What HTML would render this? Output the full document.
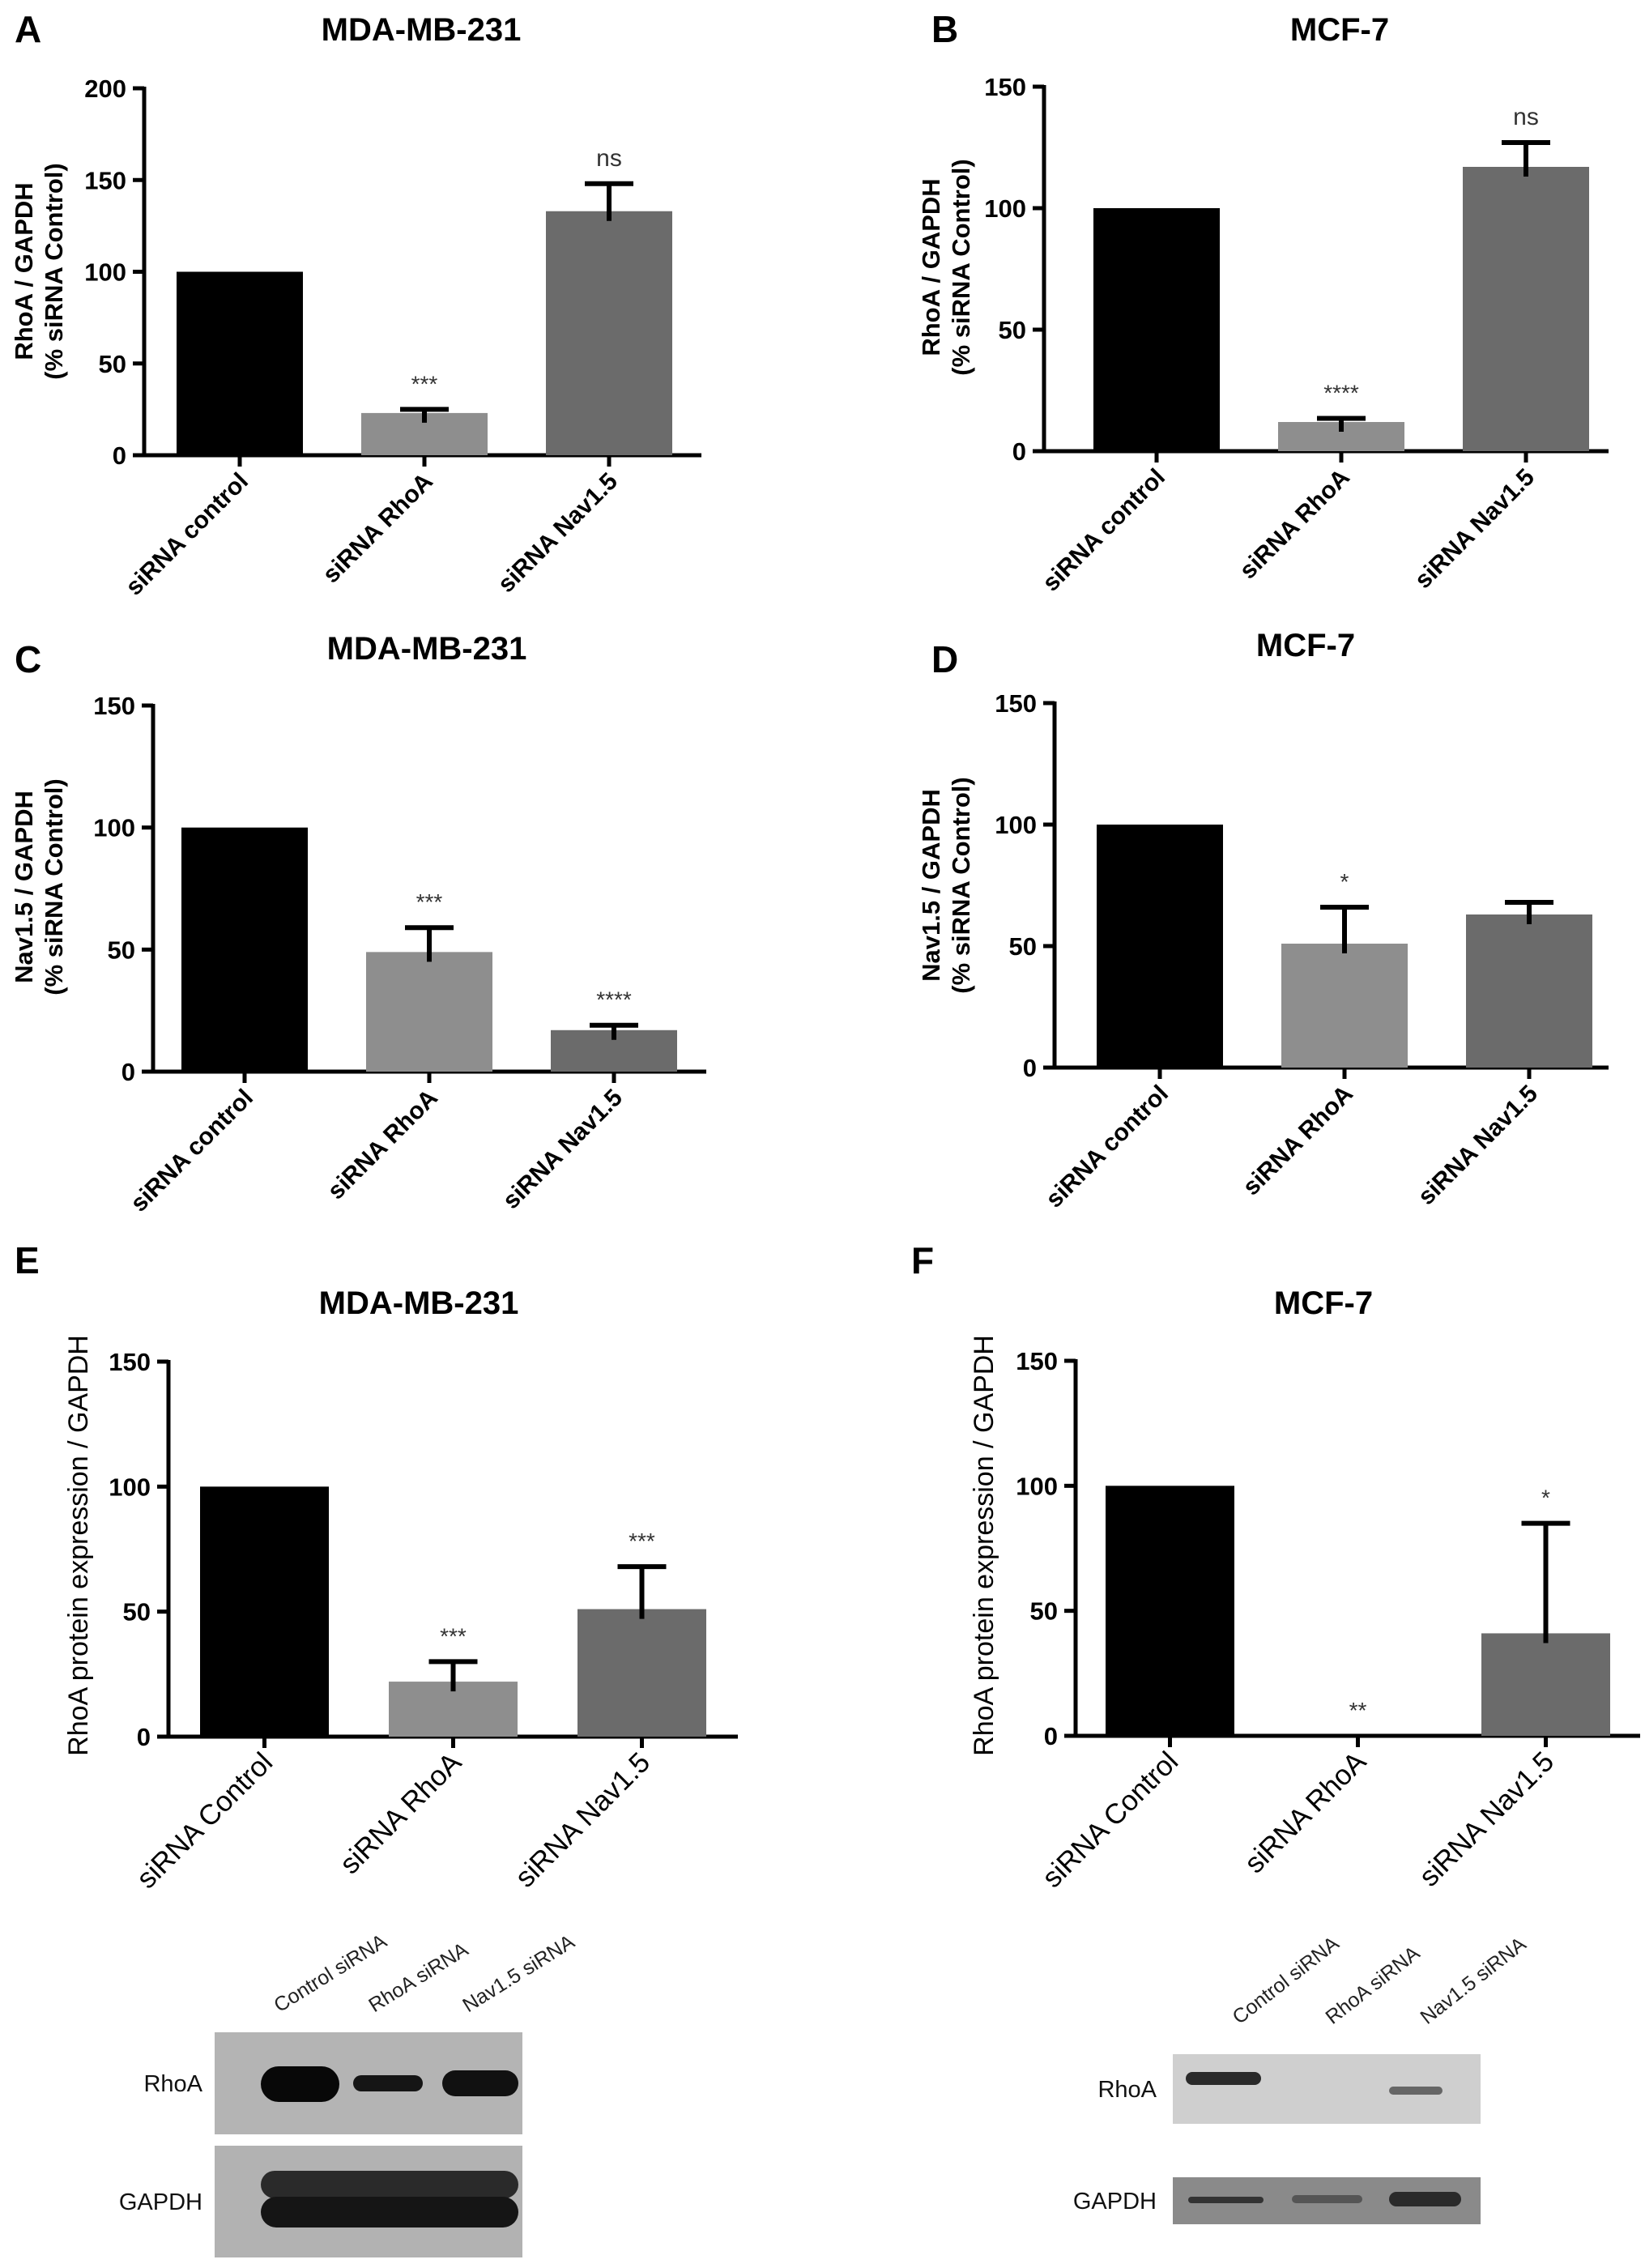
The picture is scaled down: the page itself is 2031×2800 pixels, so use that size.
<!DOCTYPE html>
<html><head><meta charset="utf-8">
<style>
html,body{margin:0;padding:0;background:#fff;}
svg{display:block;font-family:"Liberation Sans",Arial,sans-serif;}
</style></head>
<body>
<svg id="fig" width="2031" height="2800" viewBox="0 0 2031 2800" xmlns="http://www.w3.org/2000/svg"></svg>
<script>
// ---- data ----
const categoriesAD = ["siRNA control","siRNA RhoA","siRNA Nav1.5"];
const categoriesEF = ["siRNA Control","siRNA RhoA","siRNA Nav1.5"];
const valuesA = [100, 23, 133];
const errorsA = [0, 25, 148];
const sigA = ["", "***", "ns"];
const ticksA = [0, 50, 100, 150, 200];
const valuesB = [100, 12, 117];
const errorsB = [0, 13.5, 127];
const sigB = ["", "****", "ns"];
const ticksB = [0, 50, 100, 150];
const valuesC = [100, 49, 17];
const errorsC = [0, 59, 19];
const sigC = ["", "***", "****"];
const ticksC = [0, 50, 100, 150];
const valuesD = [100, 51, 63];
const errorsD = [0, 66, 68];
const sigD = ["", "*", ""];
const ticksD = [0, 50, 100, 150];
const valuesE = [100, 22, 51];
const errorsE = [0, 30, 68];
const sigE = ["", "***", "***"];
const ticksE = [0, 50, 100, 150];
const valuesF = [100, 0, 41];
const errorsF = [0, 0, 85];
const sigF = ["", "**", "*"];
const ticksF = [0, 50, 100, 150];

const NS = "http://www.w3.org/2000/svg";
const svg = document.getElementById("fig");
const colors = ["#000000", "#8e8e8e", "#6b6b6b"];

function mk(tag, attrs, parent, text) {
  const e = document.createElementNS(NS, tag);
  for (const k in attrs) e.setAttribute(k, attrs[k]);
  if (text !== undefined) e.textContent = text;
  (parent || svg).appendChild(e);
  return e;
}

function panel(p) {
  const g = mk("g", {});
  
  
  const ymax = p.ticks[p.ticks.length - 1];
  const yScale = v => p.y0 - (v / ymax) * (p.y0 - p.yTop);
  const lt = mk("text", {x: p.lx, y: p.ly, "font-size": 46, "font-weight": "bold"}, g, p.id);
  
  
  const tt = mk("text", {x: p.tx, y: p.ty, "font-size": 40, "font-weight": "bold", "text-anchor": "middle"}, g, p.title);
  
  
  const ya = mk("line", {x1: p.ax, y1: p.yTop - 2, x2: p.ax, y2: p.y0 + 2, stroke: "#000", "stroke-width": 5}, g);
  
  
  const xa = mk("line", {x1: p.ax - 2, y1: p.y0, x2: p.xEnd, y2: p.y0, stroke: "#000", "stroke-width": 5}, g);
  
  
  p.ticks.forEach(t => {
    const y = yScale(t);
    const tl = mk("line", {x1: p.ax - 14, y1: y, x2: p.ax, y2: y, stroke: "#000", "stroke-width": 5}, g);
    
    
    const tx = mk("text", {x: p.ax - 22, y: y + 11, "font-size": 31, "font-weight": "bold", "text-anchor": "end"}, g, String(t));
    
    
  });
  const yt = mk("text", {transform: `translate(${p.ytx},${p.yty}) rotate(-90)`, "font-size": p.ytSize, "font-weight": p.ytWeight, "text-anchor": "middle"}, g);
  
  
  p.yTitle.forEach((line, i) => {
    mk("tspan", {x: 0, dy: i === 0 ? 0 : p.ytSize * 1.2}, yt, line);
  });
  p.values.forEach((v, i) => {
    const left = p.x0 + i * p.step;
    const cx = left + p.bw / 2;
    const yv = yScale(v);
    if (v > 0) {
      const r = mk("rect", {x: left, y: yv, width: p.bw, height: p.y0 - yv, fill: colors[i]}, g);
      
      
    }
    if (p.errors[i] > v) {
      const ye = yScale(p.errors[i]);
      const el = mk("path", {d: `M${cx},${yv + 12}V${ye}M${cx - 30},${ye}H${cx + 30}`, stroke: "#000", "stroke-width": 6, fill: "none"}, g);
      
      
    }
    if (p.sig[i]) {
      const top = p.errors[i] > v ? yScale(p.errors[i]) : yv;
      const st = mk("text", {x: cx, y: top - 22, "font-size": p.sig[i] === "ns" ? 30 : 28, fill: "#333", "text-anchor": "middle"}, g, p.sig[i]);
      
      
    }
    const xt = mk("line", {x1: cx, y1: p.y0, x2: cx, y2: p.y0 + 14, stroke: "#000", "stroke-width": 5}, g);
    
    
    const xl = mk("text", {transform: `translate(${cx + 12},${p.y0 + 34}) rotate(-45)`, "font-size": p.xlSize, "font-weight": p.xlWeight, "text-anchor": "end"}, g, p.cats[i]);
    
    
  });
}

const ytAD1 = ["RhoA / GAPDH", "(% siRNA Control)"];
const ytAD2 = ["Nav1.5 / GAPDH", "(% siRNA Control)"];
const ytEF = ["RhoA protein expression / GAPDH"];

panel({id:"A", title:"MDA-MB-231", lx:18, ly:52, tx:520, ty:50, ax:178, yTop:109, y0:562, xEnd:866, x0:218, step:228, bw:156, values:valuesA, errors:errorsA, sig:sigA, ticks:ticksA, cats:categoriesAD, yTitle:ytAD1, ytx:40, yty:335, ytSize:31, ytWeight:"bold", xlSize:30, xlWeight:"bold"});
panel({id:"B", title:"MCF-7", lx:1150, ly:52, tx:1654, ty:50, ax:1289, yTop:107, y0:557, xEnd:1986, x0:1350, step:228, bw:156, values:valuesB, errors:errorsB, sig:sigB, ticks:ticksB, cats:categoriesAD, yTitle:ytAD1, ytx:1160, yty:330, ytSize:31, ytWeight:"bold", xlSize:30, xlWeight:"bold"});
panel({id:"C", title:"MDA-MB-231", lx:18, ly:830, tx:527, ty:814, ax:189, yTop:871, y0:1323, xEnd:872, x0:224, step:228, bw:156, values:valuesC, errors:errorsC, sig:sigC, ticks:ticksC, cats:categoriesAD, yTitle:ytAD2, ytx:40, yty:1095, ytSize:31, ytWeight:"bold", xlSize:30, xlWeight:"bold"});
panel({id:"D", title:"MCF-7", lx:1150, ly:830, tx:1612, ty:810, ax:1302, yTop:868, y0:1318, xEnd:1986, x0:1354, step:228, bw:156, values:valuesD, errors:errorsD, sig:sigD, ticks:ticksD, cats:categoriesAD, yTitle:ytAD2, ytx:1160, yty:1093, ytSize:31, ytWeight:"bold", xlSize:30, xlWeight:"bold"});
panel({id:"E", title:"MDA-MB-231", lx:18, ly:1572, tx:517, ty:1622, ax:208, yTop:1681, y0:2144, xEnd:911, x0:247, step:233, bw:159, values:valuesE, errors:errorsE, sig:sigE, ticks:ticksE, cats:categoriesEF, yTitle:ytEF, ytx:108, yty:1908, ytSize:34, ytWeight:"normal", xlSize:35, xlWeight:"normal"});
panel({id:"F", title:"MCF-7", lx:1125, ly:1572, tx:1634, ty:1622, ax:1328, yTop:1680, y0:2143, xEnd:2025, x0:1365, step:232, bw:159, values:valuesF, errors:errorsF, sig:sigF, ticks:ticksF, cats:categoriesEF, yTitle:ytEF, ytx:1226, yty:1908, ytSize:34, ytWeight:"normal", xlSize:35, xlWeight:"normal"});

// ---- western blots ----
function blot(b) {
  const g = mk("g", {});
  
  
  b.lanes.forEach((l, i) => {
    const t = mk("text", {transform: `translate(${b.laneX[i]},${b.laneY}) rotate(-${b.rot})`, "font-size": 25, fill: "#222"}, g, l);
    
    
  });
  const r1 = mk("rect", {x: b.x, y: b.r1y, width: b.w, height: b.r1h, fill: b.bg1}, g);
  
  
  const r2 = mk("rect", {x: b.x, y: b.r2y, width: b.w, height: b.r2h, fill: b.bg2}, g);
  
  
  b.bands1.forEach(bd => {
    const e = mk("rect", {x: bd[0], y: bd[1], width: bd[2], height: bd[3], rx: bd[3] / 2, fill: bd[4]}, g);
    
    
  });
  b.bands2.forEach(bd => {
    const e = mk("rect", {x: bd[0], y: bd[1], width: bd[2], height: bd[3], rx: bd[3] / 2, fill: bd[4]}, g);
    
    
  });
  const t1 = mk("text", {x: b.labX, y: b.r1y + b.r1h / 2 + 10, "font-size": 29, "text-anchor": "end", fill: "#111"}, g, "RhoA");
  
  
  const t2 = mk("text", {x: b.labX, y: b.r2y + b.r2h / 2 + 10, "font-size": 29, "text-anchor": "end", fill: "#111"}, g, "GAPDH");
  
  
}
blot({id:"e", lanes:["Control siRNA","RhoA siRNA","Nav1.5 siRNA"], laneX:[345,462,578], laneY:2485, rot:32,
  x:265, w:380, r1y:2509, r1h:126, r2y:2649, r2h:138, bg1:"#b4b4b4", bg2:"#b2b2b2", labX:250,
  bands1:[[322,2551,97,44,"#080808"],[436,2562,86,20,"#151515"],[546,2556,94,32,"#111"]],
  bands2:[[322,2680,318,34,"#2a2a2a"],[322,2712,318,38,"#151515"]]});
blot({id:"f", lanes:["Control siRNA","RhoA siRNA","Nav1.5 siRNA"], laneX:[1530,1645,1762], laneY:2500, rot:38,
  x:1448, w:380, r1y:2536, r1h:86, r2y:2688, r2h:58, bg1:"#cfcfcf", bg2:"#8a8a8a", labX:1428,
  bands1:[[1464,2558,93,16,"#2a2a2a"],[1715,2576,66,10,"#666"]],
  bands2:[[1467,2712,93,8,"#333"],[1595,2710,87,10,"#555"],[1715,2706,89,18,"#2a2a2a"]]});
</script>
</body></html>
